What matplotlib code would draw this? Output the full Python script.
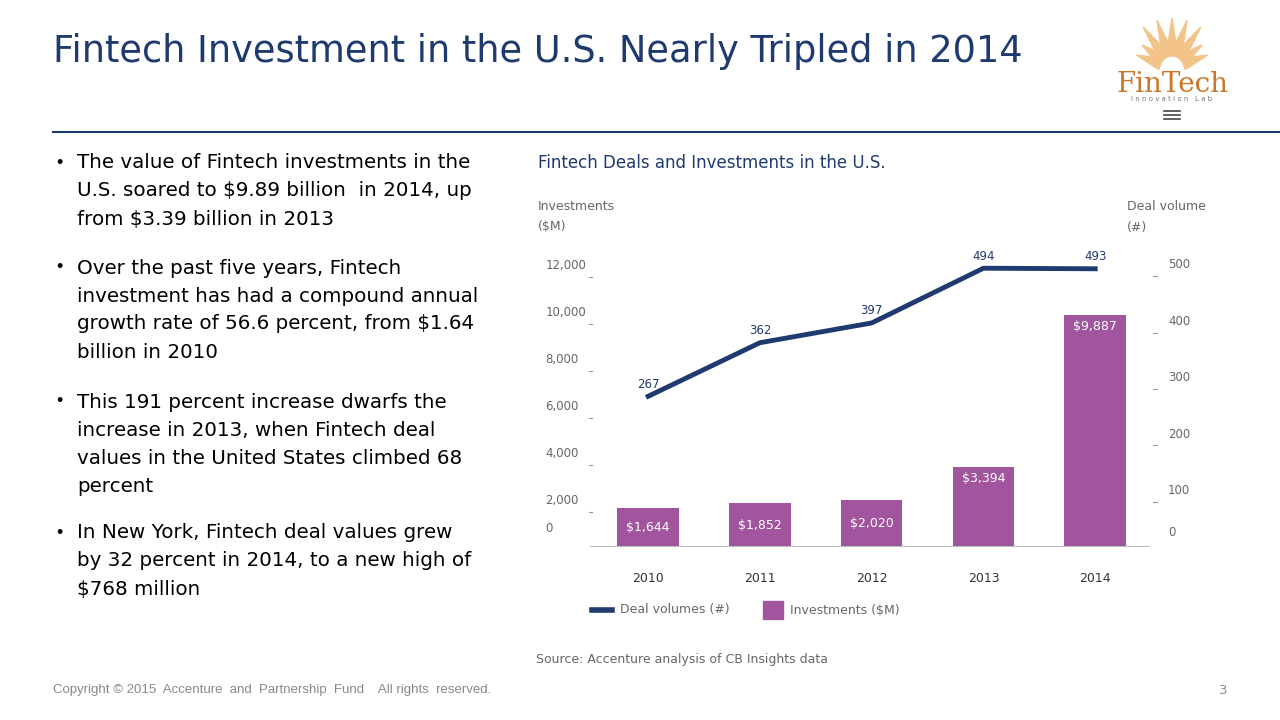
import matplotlib
matplotlib.use("Agg")
import matplotlib.pyplot as plt
import numpy as np
from matplotlib.patches import Polygon
from matplotlib.lines import Line2D

years = ["2010", "2011", "2012", "2013", "2014"]
investments = [1644, 1852, 2020, 3394, 9887]
deals = [267, 362, 397, 494, 493]
left_ticks = [0, 2000, 4000, 6000, 8000, 10000, 12000]
right_ticks = [0, 100, 200, 300, 400, 500]

W, H = 1280, 720
fig = plt.figure(figsize=(12.8, 7.2), dpi=100)
def fx(x): return x / W
def fy(y): return 1 - y / H

NAVY = "#1f3a6e"; PURPLE = "#a0559e"; GREY = "#666666"
fig.text(fx(53), fy(52), "Fintech Investment in the U.S. Nearly Tripled in 2014",
         fontsize=26.5, color="#1f3a6e", va="center", family="DejaVu Sans")
fig.add_artist(Line2D([fx(53), 1], [fy(132), fy(132)], color="#1f3a6e", lw=1.5))

# logo
cx, cy = 1172, 68
for ang in np.linspace(20, 160, 9):
    a = np.deg2rad(ang)
    L = 50 if abs(ang - 90) < 40 else 38
    tip = (cx + L*np.cos(a), cy - L*np.sin(a))
    p = (-np.sin(a)*6, -np.cos(a)*6)
    pts = [(cx + 12*np.cos(a) + p[0], cy - 12*np.sin(a) + p[1]), tip,
           (cx + 12*np.cos(a) - p[0], cy - 12*np.sin(a) - p[1])]
    fig.add_artist(Polygon([(fx(x), fy(y)) for x, y in pts], closed=True,
                           color="#f2c48a", transform=fig.transFigure))
fig.text(fx(1172), fy(84), "FinTech", fontsize=20, color="#c9762a", ha="center",
         va="center", family="DejaVu Serif")
fig.text(fx(1172), fy(99), "I n n o v a t i o n   L a b", fontsize=5, color="#777777", ha="center", va="center")
for i in range(3):
    fig.add_artist(Line2D([fx(1164), fx(1180)], [fy(111+4*i)]*2, color="#444444", lw=1.2))

bullets = [
    (163, ["The value of Fintech investments in the", "U.S. soared to $9.89 billion  in 2014, up", "from $3.39 billion in 2013"]),
    (268, ["Over the past five years, Fintech", "investment has had a compound annual", "growth rate of 56.6 percent, from $1.64", "billion in 2010"]),
    (402, ["This 191 percent increase dwarfs the", "increase in 2013, when Fintech deal", "values in the United States climbed 68", "percent"]),
    (533, ["In New York, Fintech deal values grew", "by 32 percent in 2014, to a new high of", "$768 million"]),
]
for y0, lines in bullets:
    fig.text(fx(56), fy(y0), "•", fontsize=13, va="center", family="Liberation Sans")
    for i, l in enumerate(lines):
        fig.text(fx(77), fy(y0 + 28*i), l, fontsize=14.3, va="center", family="DejaVu Sans")

fig.text(fx(53), fy(690), "Copyright © 2015  Accenture  and  Partnership  Fund    All rights  reserved.",
         fontsize=9.5, color="#888888", va="center", family="Liberation Sans")
fig.text(fx(1227), fy(690), "3", fontsize=9.5, color="#888888", va="center", ha="right")

# chart
fig.text(fx(538), fy(163), "Fintech Deals and Investments in the U.S.", fontsize=12, color="#1f3a6e", va="center")
fig.text(fx(538), fy(206), "Investments", fontsize=9, color=GREY, va="center")
fig.text(fx(538), fy(227), "($M)", fontsize=9, color=GREY, va="center")
fig.text(fx(1127), fy(206), "Deal volume", fontsize=9, color=GREY, va="center")
fig.text(fx(1127), fy(227), "(#)", fontsize=9, color=GREY, va="center")

ax = fig.add_axes([fx(590), fy(547), fx(1150) - fx(590), fy(240) - fy(547)])
x = np.arange(len(years))
ax.bar(x, investments, width=0.55, color=PURPLE)
ax.set_xlim(-0.52, 4.49)
ax.set_ylim(0, 13064)
for s in ax.spines.values(): s.set_visible(False)
ax.axhline(0, color="#bbbbbb", lw=1.5)
ax.set_yticks([]); ax.set_xticks(x); ax.set_xticklabels(years, fontsize=9, color="#333333")
ax.tick_params(axis="x", length=0, pad=18)
for i, v in enumerate(investments):
    yy = v - 500 if v > 3000 else v / 2
    ax.text(i, yy, f"${v:,}", ha="center", va="center", color="white", fontsize=9)
for t in left_ticks:
    ax.text(-0.92, t + 800 if t == 0 else t, f"{t:,}", ha="left", va="center", fontsize=8.5, color=GREY, clip_on=False)
    if t > 0:
        ax.plot([-0.53, -0.50], [t - 500]*2, color="#999999", lw=0.8, clip_on=False)

ax2 = ax.twinx()
ax2.set_ylim(0, 544)
for s in ax2.spines.values(): s.set_visible(False)
ax2.set_yticks([])
ax2.plot(x, deals, color=NAVY, lw=3.5)
for i, d in enumerate(deals):
    ax2.text(i, d + 10, str(d), ha="center", va="bottom", fontsize=8.5, color=NAVY)
for t in right_ticks:
    ax2.text(4.65, t + 25 if t == 0 else t, str(t), ha="left", va="center", fontsize=8.5, color=GREY, clip_on=False)
    if t > 0:
        ax2.plot([4.52, 4.55], [t - 20]*2, color="#999999", lw=0.8, clip_on=False)

fig.add_artist(Line2D([fx(592), fx(612)], [fy(610)]*2, color=NAVY, lw=4))
fig.text(fx(620), fy(610), "Deal volumes (#)", fontsize=9, color=GREY, va="center")
fig.add_artist(Polygon([(fx(763), fy(601)), (fx(783), fy(601)), (fx(783), fy(619)), (fx(763), fy(619))],
                       color=PURPLE, transform=fig.transFigure))
fig.text(fx(790), fy(610), "Investments ($M)", fontsize=9, color=GREY, va="center")
fig.text(fx(536), fy(659), "Source: Accenture analysis of CB Insights data", fontsize=9, color=GREY, va="center")

fig.savefig("out.png", dpi=100)
